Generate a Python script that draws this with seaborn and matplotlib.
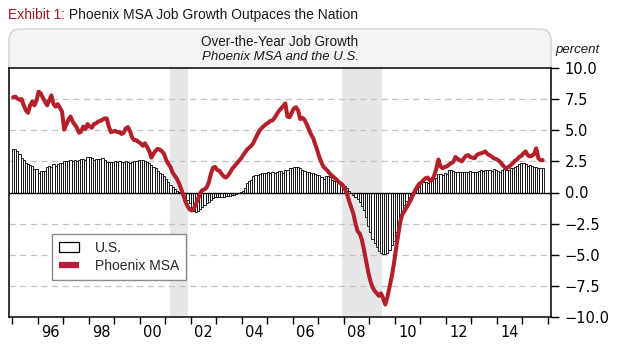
import numpy as np
import pandas as pd
import matplotlib
matplotlib.use("Agg")
import matplotlib.pyplot as plt
import seaborn as sns
from matplotlib.patches import FancyBboxPatch, Patch
from matplotlib.lines import Line2D
from matplotlib.transforms import IdentityTransform

# ---------------- data (monthly, Jan 1995 - Oct 2015) ----------------
us_growth = [
    3.5, 3.5, 3.3, 3.1, 2.8, 2.6, 2.4, 2.3, 2.2, 2.1, 1.9, 1.85,          # 1995
    1.6, 1.75, 1.75, 1.75, 2.05, 2.15, 2.05, 2.25, 2.15, 2.3, 2.35, 2.4,  # 1996
    2.5, 2.5, 2.55, 2.6, 2.55, 2.6, 2.5, 2.65, 2.7, 2.7, 2.65, 2.85,      # 1997
    2.85, 2.75, 2.6, 2.7, 2.7, 2.7, 2.8, 2.65, 2.45, 2.45, 2.45, 2.45,    # 1998
    2.5, 2.45, 2.5, 2.45, 2.45, 2.5, 2.45, 2.35, 2.45, 2.5, 2.5, 2.6,     # 1999
    2.6, 2.6, 2.5, 2.45, 2.35, 2.2, 2.05, 1.95, 1.75, 1.6, 1.45, 1.32,    # 2000
    1.1, 0.85, 0.6, 0.41, 0.25, 0.15, 0.07, -0.07, -0.2, -0.39, -0.6, -0.87,  # 2001
    -1.27, -1.49, -1.56, -1.5, -1.35, -1.14, -1.0, -0.87, -0.74, -0.6, -0.47, -0.39,  # 2002
    -0.33, -0.33, -0.33, -0.33, -0.3, -0.3, -0.28, -0.2, -0.17, -0.12, -0.05, 0.05,  # 2003
    0.15, 0.36, 0.76, 0.95, 1.03, 1.3, 1.38, 1.43, 1.49, 1.54, 1.54, 1.54,  # 2004
    1.65, 1.54, 1.65, 1.54, 1.65, 1.7, 1.75, 1.55, 1.83, 1.83, 2.0, 1.97,   # 2005
    2.02, 2.07, 2.07, 1.97, 1.83, 1.75, 1.65, 1.65, 1.54, 1.54, 1.49, 1.43,  # 2006
    1.38, 1.22, 1.11, 1.3, 1.3, 1.22, 1.03, 0.9, 0.9, 0.85, 0.76, 0.6,     # 2007
    0.5, 0.35, 0.15, -0.05, -0.2, -0.35, -0.55, -0.75, -1.05, -1.4, -2.0, -2.7,  # 2008
    -3.2, -3.7, -4.05, -4.4, -4.7, -4.86, -4.97, -4.95, -4.86, -4.65, -4.2, -3.9,  # 2009
    -3.2, -2.7, -2.05, -1.75, -1.0, -0.7, -0.35, -0.17, 0.0, 0.23, 0.36, 0.45,  # 2010
    0.76, 0.84, 0.84, 0.8, 0.9, 1.03, 1.11, 1.16, 1.49, 1.49, 1.43, 1.54,   # 2011
    1.49, 1.83, 1.83, 1.7, 1.65, 1.65, 1.67, 1.62, 1.67, 1.62, 1.67, 1.73,  # 2012
    1.62, 1.67, 1.67, 1.73, 1.81, 1.75, 1.81, 1.81, 1.81, 1.75, 1.86, 1.81,  # 2013
    1.75, 1.67, 1.81, 1.86, 1.81, 1.81, 1.99, 1.99, 2.07, 2.16, 2.26, 2.34,  # 2014
    2.34, 2.26, 2.16, 2.21, 2.13, 2.07, 2.07, 1.99, 1.94, 1.94,             # 2015
]

phoenix_growth = [
    7.65, 7.7, 7.55, 7.45, 7.5, 7.0, 6.6, 6.4, 7.0, 7.3, 7.0, 7.4,       # 1995
    8.1, 7.95, 7.6, 7.3, 7.0, 7.4, 7.8, 7.1, 6.9, 7.1, 6.8, 6.5,         # 1996
    5.05, 5.45, 5.85, 6.1, 5.7, 5.45, 5.2, 4.8, 4.9, 5.3, 5.1, 5.5,      # 1997
    5.3, 5.2, 5.5, 5.55, 5.7, 5.75, 5.85, 5.95, 5.95, 5.3, 4.85, 4.9,    # 1998
    4.95, 4.85, 4.85, 4.7, 4.8, 5.15, 5.25, 4.9, 4.4, 4.2, 4.2, 4.05,    # 1999
    3.95, 3.75, 3.95, 3.65, 3.35, 2.8, 3.1, 3.35, 3.5, 3.45, 3.3, 3.1,   # 2000
    2.6, 2.3, 2.05, 1.6, 1.35, 1.1, 0.75, 0.3, -0.2, -0.7, -1.1, -1.35,  # 2001
    -1.45, -1.3, -0.9, -0.5, -0.05, 0.2, 0.25, 0.4, 0.8, 1.5, 2.0, 2.05,  # 2002
    1.8, 1.75, 1.5, 1.3, 1.2, 1.35, 1.6, 1.9, 2.1, 2.3, 2.5, 2.7,        # 2003
    2.95, 3.2, 3.45, 3.6, 3.75, 4.0, 4.35, 4.7, 5.0, 5.2, 5.35, 5.5,     # 2004
    5.6, 5.75, 5.8, 6.0, 6.3, 6.55, 6.75, 6.95, 7.15, 6.1, 6.05, 6.4,    # 2005
    6.75, 6.85, 6.6, 5.9, 6.0, 5.85, 5.5, 5.1, 4.7, 4.4, 3.9, 3.4,       # 2006
    2.85, 2.4, 2.05, 1.9, 1.72, 1.5, 1.35, 1.2, 1.05, 0.85, 0.75, 0.6,   # 2007
    0.3, -0.1, -0.7, -1.2, -1.7, -2.5, -3.1, -3.3, -3.8, -4.6, -5.5, -6.4,  # 2008
    -7.1, -7.6, -7.9, -8.1, -8.3, -8.1, -8.5, -9.0, -8.4, -7.6, -6.8, -5.8,  # 2009
    -4.6, -3.5, -2.4, -1.75, -1.5, -1.2, -0.9, -0.6, -0.2, 0.15, 0.45, 0.7,  # 2010
    0.8, 1.0, 1.15, 1.2, 0.95, 1.0, 1.35, 1.9, 2.65, 2.1, 1.95, 2.05,    # 2011
    2.1, 2.25, 2.35, 2.45, 2.85, 2.7, 2.6, 2.5, 2.75, 2.95, 3.0, 2.85,   # 2012
    2.8, 2.75, 3.0, 3.1, 3.15, 3.2, 3.3, 3.1, 3.0, 2.9, 2.75, 2.7,       # 2013
    2.6, 2.45, 2.25, 2.05, 1.95, 2.05, 2.2, 2.35, 2.55, 2.65, 2.85, 2.95,  # 2014
    3.15, 3.3, 3.0, 2.9, 2.95, 3.1, 3.55, 2.75, 2.6, 2.6,               # 2015
]

start_month = "1995-01"
year_ticks = list(range(1995, 2017))
label_years = [1996, 1998, 2000, 2002, 2004, 2006, 2008, 2010, 2012, 2014]
x_tick_labels = ["96", "98", "00", "02", "04", "06", "08", "10", "12", "14"]
y_ticks = [-10.0, -7.5, -5.0, -2.5, 0.0, 2.5, 5.0, 7.5, 10.0]
grid_levels = [-7.5, -5.0, -2.5, 2.5, 5.0, 7.5]
recessions = [(2001.18, 2001.88), (2007.93, 2009.49)]

series_names = ["U.S.", "Phoenix MSA"]
title_lead = "Exhibit 1:"
title_rest = " Phoenix MSA Job Growth Outpaces the Nation"
header_1 = "Over-the-Year Job Growth"
header_2 = "Phoenix MSA and the U.S."
unit_label = "percent"

# ---------------- build frame ----------------
dates = pd.date_range(start_month, periods=len(us_growth), freq="MS")
xpos = np.asarray(dates.year + (dates.month - 0.5) / 12.0, dtype=float)
df = pd.DataFrame({"x": xpos, "us": us_growth, "phx": phoenix_growth})

RED = "#B3202A"
RED_LEG = "#BE1A3C"

sns.set_style("ticks")
plt.rcParams["font.family"] = ["DejaVu Sans"]

W, H = 618, 347
fig = plt.figure(figsize=(W / 100, H / 100), dpi=100)
fig.patch.set_facecolor("white")
ax = fig.add_axes([9 / W, (H - 317) / H, 542 / W, 249 / H])
ax.set_facecolor("white")

# header box (behind the axes)
hdr = FancyBboxPatch((9, H - 100), 542, 100 - 29,
                     boxstyle="round,pad=0,rounding_size=11",
                     transform=IdentityTransform(), facecolor="#f4f4f4",
                     edgecolor="#d2d2d2", linewidth=1.0, zorder=-1)
fig.add_artist(hdr)

# recession shading
for a, b in recessions:
    ax.axvspan(a, b, color="#e6e7e9", lw=0, zorder=0)

# grid lines
for lev in grid_levels:
    ax.axhline(lev, color="#c4c4c4", lw=0.9, ls=(0, (5, 3.5)), zorder=1)

# bars (US)
sns.barplot(data=df, x="x", y="us", native_scale=True, orient="x",
            color="white", edgecolor="black", linewidth=0.6, width=1.0,
            errorbar=None, ax=ax, zorder=2, legend=False)

ax.axhline(0, color="black", lw=1.0, zorder=3)

# line (Phoenix)
sns.lineplot(data=df, x="x", y="phx", color=RED, linewidth=2.9, ax=ax,
             zorder=4, legend=False)

ax.set_xlim(1994.88, 2016.12)
ax.set_ylim(-10, 10)
ax.set_xlabel("")
ax.set_ylabel("")

for s in ax.spines.values():
    s.set_visible(True)
    s.set_color("black")
    s.set_linewidth(1.1)

# y axis on the right
ax.yaxis.tick_right()
ax.set_yticks(y_ticks)
ax.set_yticklabels([f"{v:.1f}".replace("-", "\u2212") for v in y_ticks])
ax.tick_params(axis="y", which="major", direction="out", length=6, width=1.0,
               pad=4, labelsize=10.5, right=True, left=False, colors="black")

# x axis: year ticks, labels at mid-year
ax.set_xticks(year_ticks)
ax.set_xticklabels([])
ax.set_xticks([y + 0.5 for y in label_years], minor=True)
ax.set_xticklabels(x_tick_labels, minor=True)
ax.tick_params(axis="x", which="major", direction="out", length=5, width=1.0,
               bottom=True, top=False, colors="black")
ax.tick_params(axis="x", which="minor", length=0, pad=6, labelsize=10.5,
               bottom=True, top=False, colors="black")

# legend
handles = [Patch(facecolor="white", edgecolor="black", linewidth=0.9, label=series_names[0]),
           Line2D([], [], color=RED_LEG, lw=4.5, solid_capstyle="butt",
                  label=series_names[1])]
leg = ax.legend(handles=handles, loc="lower left",
                bbox_to_anchor=((52 - 9) / 542, (317 - 280) / 249),
                borderaxespad=0, frameon=True, fancybox=False,
                edgecolor="#8a8a8a", framealpha=1,
                prop=dict(family="Liberation Sans", size=10),
                handlelength=1.45, handleheight=0.7, handletextpad=1.15,
                borderpad=0.5, labelspacing=0.3)
leg.get_frame().set_linewidth(1.0)

# texts
t1 = fig.text(8 / W, 1 - 15 / H, title_lead, color="#A3171E", fontsize=10,
              family="Liberation Sans", ha="left", va="center")
ax.annotate(title_rest, xy=(1, 0), xycoords=t1, ha="left", va="bottom",
            fontsize=10, family="Liberation Sans", color="#1a1a1a",
            annotation_clip=False)
fig.text(280 / W, 1 - 42 / H, header_1, ha="center", va="center",
         fontsize=9.75, family="Liberation Sans", color="#1a1a1a")
fig.text(280 / W, 1 - 57 / H, header_2, ha="center", va="center",
         fontsize=9.5, style="italic", family="Liberation Sans", color="#1a1a1a")
fig.text(577 / W, 1 - 50 / H, unit_label, ha="center", va="center",
         fontsize=9.5, style="italic", family="Liberation Sans", color="#1a1a1a")

fig.savefig("out.png", dpi=100, facecolor="white")
